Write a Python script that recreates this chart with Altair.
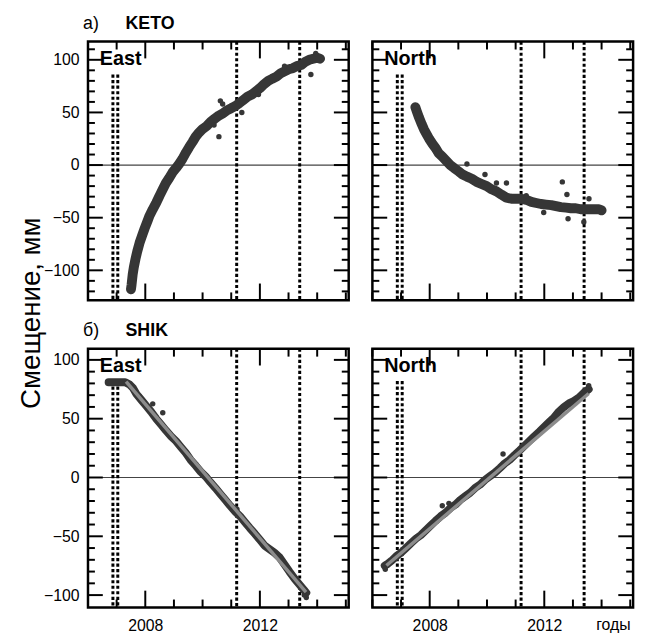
import altair as alt
import pandas as pd

# ---------------- data ----------------
years_ticks = [2006, 2007, 2008, 2009, 2010, 2011, 2012, 2013, 2014, 2015]
year_labels = [2008, 2012]
quakes = [2006.87, 2007.04, 2011.19, 2013.39]

# KETO East
keto_e_year = [2007.50, 2007.52, 2007.56, 2007.60, 2007.66, 2007.72, 2007.80, 2007.90, 2007.98, 2008.08,
               2008.15, 2008.26, 2008.38, 2008.50, 2008.61, 2008.72, 2008.84, 2008.95, 2009.07, 2009.18,
               2009.30, 2009.42, 2009.53, 2009.65, 2009.76, 2009.88, 2009.99, 2010.14, 2010.28, 2010.42,
               2010.57, 2010.71, 2010.85, 2011.00, 2011.14, 2011.29, 2011.43, 2011.57, 2011.72, 2011.86,
               2012.00, 2012.15, 2012.29, 2012.43, 2012.58, 2012.72, 2012.86, 2013.00, 2013.15, 2013.29,
               2013.44, 2013.58, 2013.72, 2013.86, 2014.01, 2014.10]
keto_e_val = [-118, -114, -104, -97, -89, -82, -74, -66, -60, -53,
              -48, -42, -36, -29, -23, -17, -12, -7, -3, 1,
              6, 12, 17, 22, 27, 31, 34, 37, 41, 44,
              47, 49, 52, 54, 56, 59, 62, 65, 67, 70,
              73, 77, 80, 82, 84, 87, 89, 91, 92, 94,
              95, 98, 100, 101, 102, 101]
keto_e_out_year = [2010.62, 2010.57, 2011.37, 2013.78, 2012.86, 2010.40, 2011.95, 2010.70, 2013.95]
keto_e_out_val = [61, 27, 50, 86, 94, 38, 67, 58, 106]

# KETO North
keto_n_year = [2007.50, 2007.55, 2007.63, 2007.72, 2007.80, 2007.90, 2007.98, 2008.10, 2008.21, 2008.32,
               2008.44, 2008.58, 2008.72, 2008.86, 2009.01, 2009.15, 2009.30, 2009.47, 2009.64, 2009.81,
               2009.99, 2010.16, 2010.33, 2010.50, 2010.68, 2010.85, 2011.02, 2011.20, 2011.37, 2011.55,
               2011.72, 2011.89, 2012.06, 2012.24, 2012.41, 2012.58, 2012.76, 2012.93, 2013.10, 2013.27,
               2013.44, 2013.60, 2013.75, 2013.91, 2014.00]
keto_n_val = [55, 51, 45, 39, 34, 29, 25, 20, 16, 11,
              8, 4, 0, -3, -6, -9, -11, -13, -16, -18,
              -20, -23, -25, -28, -31, -32, -32, -32, -33, -35,
              -36, -37, -37.5, -38, -39, -40, -40.5, -41, -41, -42,
              -42, -42, -42, -42, -43]
keto_n_out_year = [2009.93, 2010.33, 2010.68, 2012.63, 2012.79, 2011.98, 2013.56, 2012.83, 2013.38, 2009.30, 2011.37]
keto_n_out_val = [-9, -17, -17, -16, -28, -45, -32, -51, -54, 1, -29]

# SHIK East
shik_e_year = [2006.72, 2006.85, 2007.00, 2007.15, 2007.30, 2007.45, 2007.57, 2007.69, 2007.86, 2008.03,
               2008.20, 2008.38, 2008.55, 2008.72, 2008.90, 2009.07, 2009.24, 2009.41, 2009.58, 2009.76,
               2009.93, 2010.10, 2010.27, 2010.45, 2010.62, 2010.79, 2010.96, 2011.14, 2011.31, 2011.48,
               2011.65, 2011.83, 2012.00, 2012.17, 2012.34, 2012.51, 2012.69, 2012.86, 2013.03, 2013.21,
               2013.38, 2013.55, 2013.62]
shik_e_val = [81, 81, 81, 81, 81, 79, 76, 71, 66, 61,
              56, 50, 45, 40, 35, 31, 26, 21, 15, 10,
              5, 1, -4, -9, -14, -19, -24, -29, -33, -38,
              -43, -48, -53, -58, -61, -64, -68, -74, -80, -86,
              -91, -96, -98]
shik_e_out_year = [2008.26, 2008.61, 2007.80, 2013.62, 2013.55, 2011.20]
shik_e_out_val = [62.6, 55, 69, -102, -100, -27]
shik_e_fit_year = [2007.33, 2013.61]
shik_e_fit_val = [81.5, -97.5]

# SHIK North
shik_n_year = [2006.43, 2006.50, 2006.66, 2006.83, 2007.00, 2007.17, 2007.34, 2007.52, 2007.69, 2007.86,
               2008.03, 2008.20, 2008.38, 2008.55, 2008.72, 2008.90, 2009.07, 2009.24, 2009.41, 2009.58,
               2009.76, 2009.93, 2010.10, 2010.27, 2010.45, 2010.62, 2010.79, 2010.96, 2011.14, 2011.31,
               2011.48, 2011.65, 2011.83, 2012.00, 2012.17, 2012.34, 2012.51, 2012.69, 2012.86, 2013.03,
               2013.21, 2013.38, 2013.55]
shik_n_val = [-75, -74, -71, -67, -64, -60, -56, -52, -49, -45,
              -41, -37, -33, -30, -26, -23, -19, -16, -13, -9,
              -6, -2, 1, 4, 8, 12, 15, 19, 23, 27,
              31, 35, 39, 43, 47, 51, 56, 60, 63, 65,
              68, 72, 75]
shik_n_out_year = [2010.56, 2008.44, 2008.67, 2013.55, 2006.45]
shik_n_out_val = [20, -24, -22, 78, -78]
shik_n_fit_year = [2006.49, 2013.55]
shik_n_fit_val = [-74.8, 71.4]

# panel y ranges and tick values
keto_domain = [-128.5, 117.3]
shik_domain = [-110.5, 109.5]
keto_yticks = list(range(-120, 111, 10))
shik_yticks = list(range(-100, 101, 10))
keto_quake_top = [86, 86, 117.3, 117.3]
shik_quake_top = [82, 82, 109.5, 109.5]

# ---------------- styling ----------------
W, H = 264, 262
FONT = "Liberation Sans"
DOT = "#363636"
FIT = "#8c8c8c"


def panel(band_y, band_v, out_y, out_v, fit_y, fit_v, ydom, yticks, qtop,
          label, left, bottom, header=None, band_w=10, ytitle=False, years_word=False):
    xs = alt.Scale(domain=[2006, 2015.1], nice=False, zero=False)
    ys = alt.Scale(domain=ydom, nice=False, zero=False)
    if bottom:
        xaxis = alt.Axis(values=year_labels, format="d", ticks=False, domain=False, grid=False,
                         labelFontSize=16, labelFont=FONT, labelColor="black", labelPadding=10,
                         title=None, tickSize=0)
    else:
        xaxis = None
    if left:
        yaxis = alt.Axis(values=[-100, -50, 0, 50, 100], ticks=False, domain=False, grid=False,
                         labelFontSize=16, labelFont=FONT, labelColor="black", labelPadding=9,
                         title=None, tickSize=0)
    else:
        yaxis = None
    X = alt.X("x:Q", scale=xs, axis=xaxis, title=None)
    Y = alt.Y("y:Q", scale=ys, axis=yaxis, title=None)

    band = pd.DataFrame({"x": band_y, "y": band_v})
    outs = pd.DataFrame({"x": out_y, "y": out_v})
    layers = []

    # zero line
    layers.append(alt.Chart(pd.DataFrame({"y": [0]})).mark_rule(color="#444", strokeWidth=1.2)
                  .encode(y=Y))
    # earthquake dotted lines
    qdf = pd.DataFrame({"x": quakes, "y": qtop, "y2": [ydom[0]] * len(quakes)})
    layers.append(alt.Chart(qdf).mark_rule(color="black", strokeWidth=3, strokeDash=[3.2, 2.4])
                  .encode(x=X, y=Y, y2="y2:Q"))
    # data band
    layers.append(alt.Chart(band).mark_line(color=DOT, strokeWidth=band_w, strokeCap="round",
                                            strokeJoin="round").encode(x=X, y=Y))
    layers.append(alt.Chart(outs).mark_circle(color=DOT, size=30, opacity=1).encode(x=X, y=Y))
    if fit_y is not None:
        fit = pd.DataFrame({"x": fit_y, "y": fit_v})
        layers.append(alt.Chart(fit).mark_line(color=FIT, strokeWidth=3.5).encode(x=X, y=Y))

    # inward ticks
    ymaj = pd.DataFrame({"y": [v for v in yticks if v % 50 == 0]})
    ymin = pd.DataFrame({"y": [v for v in yticks if v % 50 != 0]})
    for df, ln in ((ymaj, 15), (ymin, 7)):
        layers.append(alt.Chart(df).mark_rule(color="black", strokeWidth=2)
                      .encode(y=Y, x=alt.value(0), x2=alt.value(ln)))
        layers.append(alt.Chart(df).mark_rule(color="black", strokeWidth=2)
                      .encode(y=Y, x=alt.value(W), x2=alt.value(W - ln)))
    xmaj = pd.DataFrame({"x": [v for v in years_ticks if v in year_labels]})
    xmin = pd.DataFrame({"x": [v for v in years_ticks if v not in year_labels]})
    for df, ln in ((xmaj, 17), (xmin, 8)):
        layers.append(alt.Chart(df).mark_rule(color="black", strokeWidth=2)
                      .encode(x=X, y=alt.value(H), y2=alt.value(H - ln)))
        layers.append(alt.Chart(df).mark_rule(color="black", strokeWidth=2)
                      .encode(x=X, y=alt.value(0), y2=alt.value(ln)))

    # panel label
    layers.append(alt.Chart(pd.DataFrame({"t": [label]})).mark_text(
        font=FONT, fontSize=20, fontWeight="bold", align="left", baseline="middle", color="black")
        .encode(text="t:N", x=alt.value(12), y=alt.value(18)))
    if header is not None:
        letter, station = header
        layers.append(alt.Chart(pd.DataFrame({"t": [letter]})).mark_text(
            font=FONT, fontSize=18, align="left", baseline="middle", color="black")
            .encode(text="t:N", x=alt.value(-5), y=alt.value(-18)))
        layers.append(alt.Chart(pd.DataFrame({"t": [station]})).mark_text(
            font=FONT, fontSize=18, fontWeight="bold", align="left", baseline="middle", color="black")
            .encode(text="t:N", x=alt.value(38), y=alt.value(-18)))
    if ytitle:
        layers.append(alt.Chart(pd.DataFrame({"t": ["Смещение, мм"]})).mark_text(
            font=FONT, fontSize=28, angle=270, align="center", baseline="middle", color="black")
            .encode(text="t:N", x=alt.value(-57), y=alt.value(-36)))
    if years_word:
        layers.append(alt.Chart(pd.DataFrame({"t": ["годы"]})).mark_text(
            font=FONT, fontSize=16, align="center", baseline="middle", color="black")
            .encode(text="t:N", x=alt.value(244), y=alt.value(280)))

    return alt.layer(*layers).properties(width=W, height=H)


tl = panel(keto_e_year, keto_e_val, keto_e_out_year, keto_e_out_val, None, None,
           keto_domain, keto_yticks, keto_quake_top, "East", True, False, header=("а)", "KETO"))
tr = panel(keto_n_year, keto_n_val, keto_n_out_year, keto_n_out_val, None, None,
           keto_domain, keto_yticks, keto_quake_top, "North", False, False)
bl = panel(shik_e_year, shik_e_val, shik_e_out_year, shik_e_out_val, shik_e_fit_year, shik_e_fit_val,
           shik_domain, shik_yticks, shik_quake_top, "East", True, True, header=("б)", "SHIK"),
           band_w=8, ytitle=True)
br = panel(shik_n_year, shik_n_val, shik_n_out_year, shik_n_out_val, shik_n_fit_year, shik_n_fit_val,
           shik_domain, shik_yticks, shik_quake_top, "North", False, True, band_w=8, years_word=True)

chart = alt.concat(tl, tr, bl, br, columns=2,
                   spacing=alt.RowColnumber(row=49, column=24), bounds="flush").resolve_scale(
    x="independent", y="independent"
).properties(
    padding={"left": 8, "top": 1, "right": 5, "bottom": 5}
).configure(background="white").configure_view(stroke="black", strokeWidth=2.5)

chart.save("out.html", embed_options={"renderer": "svg", "actions": False})
